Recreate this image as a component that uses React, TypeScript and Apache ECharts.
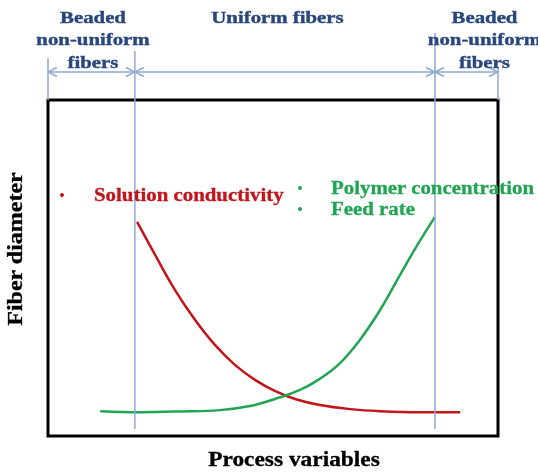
import React, { useEffect, useRef } from "react";
import * as echarts from "echarts";

// Process variable (x) and fiber diameter (y), arbitrary units 0..10
const conductivityX = [1.98, 2.38, 2.82, 3.27, 3.71, 4.16, 4.6, 5.04, 5.49, 6.04, 6.71, 7.38, 8.27, 9.16];
const conductivityY = [6.37, 5.39, 4.35, 3.45, 2.71, 2.11, 1.67, 1.34, 1.1, 0.92, 0.8, 0.74, 0.71, 0.71];
const concentrationX = [1.16, 2.04, 2.93, 3.82, 4.49, 5.04, 5.6, 6.04, 6.49, 6.93, 7.38, 7.82, 8.22, 8.6];
const concentrationY = [0.74, 0.71, 0.73, 0.77, 0.89, 1.1, 1.37, 1.7, 2.17, 2.86, 3.75, 4.79, 5.71, 6.52];

// Region boundaries along the process-variable axis
const boundaries = [0, 1.93, 8.6, 10];
const regionCenters = [1.0, 5.1, 9.7];
const regionLabels = [
  ["Beaded", "non-uniform", "fibers"],
  ["Uniform fibers"],
  ["Beaded", "non-uniform", "fibers"],
];
const legendRed = ["Solution conductivity"];
const legendGreen = ["Polymer concentration", "Feed rate"];

const RED = "#C1141B";
const GREEN = "#22A553";
const BLUE_TEXT = "#2A477C";
const BLUE_LINE = "#8FAAD1";
const SERIF = "Liberation Serif, Times New Roman, serif";

export default function App() {
  const ref = useRef<HTMLDivElement>(null);
  useEffect(() => {
    if (!ref.current) return;
    const chart = echarts.init(ref.current, null, { renderer: "svg" });
    const zip = (xs: number[], ys: number[]) => xs.map((x, i) => [x, ys[i]]);
    chart.setOption({
      animation: false,
      grid: {
        left: 48,
        top: 100,
        width: 450,
        height: 336,
        show: true,
        borderColor: "#000",
        borderWidth: 3,
        backgroundColor: "transparent",
      },
      xAxis: {
        type: "value",
        min: 0,
        max: 10,
        axisLine: { show: false },
        axisTick: { show: false },
        axisLabel: { show: false },
        splitLine: { show: false },
      },
      yAxis: {
        type: "value",
        min: 0,
        max: 10,
        axisLine: { show: false },
        axisTick: { show: false },
        axisLabel: { show: false },
        splitLine: { show: false },
      },
      series: [
        {
          name: legendRed[0],
          type: "line",
          smooth: 0.4,
          showSymbol: false,
          lineStyle: { color: RED, width: 2.5 },
          data: zip(conductivityX, conductivityY),
        },
        {
          name: legendGreen.join(" / "),
          type: "line",
          smooth: 0.4,
          showSymbol: false,
          lineStyle: { color: GREEN, width: 2.5 },
          data: zip(concentrationX, concentrationY),
        },
      ],
    });

    const px = (v: number) => chart.convertToPixel({ xAxisIndex: 0 }, v) as number;
    const graphics: any[] = [];
    const tops = [58, 51, 33, 67];
    const bottoms = [100, 429, 429, 100];
    const arrowY = 72;
    boundaries.forEach((b, i) => {
      const x = px(b);
      graphics.push({
        type: "line",
        shape: { x1: x, y1: tops[i], x2: x, y2: bottoms[i] },
        style: { stroke: BLUE_LINE, lineWidth: 1.5 },
        z: 10,
      });
    });
    for (let i = 0; i < boundaries.length - 1; i++) {
      const x1 = px(boundaries[i]);
      const x2 = px(boundaries[i + 1]);
      graphics.push({
        type: "line",
        shape: { x1, y1: arrowY, x2, y2: arrowY },
        style: { stroke: BLUE_LINE, lineWidth: 1.5 },
        z: 10,
      });
      graphics.push({
        type: "polyline",
        shape: { points: [[x1 + 9, arrowY - 4.5], [x1, arrowY], [x1 + 9, arrowY + 4.5]] },
        style: { stroke: BLUE_LINE, lineWidth: 1.5, fill: "none" },
        z: 10,
      });
      graphics.push({
        type: "polyline",
        shape: { points: [[x2 - 9, arrowY - 4.5], [x2, arrowY], [x2 - 9, arrowY + 4.5]] },
        style: { stroke: BLUE_LINE, lineWidth: 1.5, fill: "none" },
        z: 10,
      });
    }
    const lineYs = [17, 39, 62];
    regionLabels.forEach((lines, i) => {
      const cx = px(regionCenters[i]);
      lines.forEach((t, j) => {
        graphics.push({
          type: "text",
          x: cx,
          y: lineYs[j],
          scaleX: 1.19,
          style: {
            text: t,
            fill: BLUE_TEXT,
            stroke: BLUE_TEXT,
            lineWidth: 0.4,
            font: `bold 17.5px ${SERIF}`,
            textAlign: "center",
            textVerticalAlign: "middle",
          },
          z: 12,
        });
      });
    });
    // legend-like annotations
    graphics.push({ type: "circle", shape: { cx: 62, cy: 195, r: 2 }, style: { fill: RED }, z: 12 });
    graphics.push({
      type: "text",
      x: 94,
      y: 195,
      scaleX: 1.16,
      style: { text: legendRed[0], fill: RED, stroke: RED, lineWidth: 0.3, font: `bold 18px ${SERIF}`, textAlign: "left", textVerticalAlign: "middle" },
      z: 12,
    });
    const greenYs = [188, 209];
    legendGreen.forEach((t, i) => {
      graphics.push({ type: "circle", shape: { cx: 300, cy: greenYs[i], r: 2 }, style: { fill: GREEN }, z: 12 });
      graphics.push({
        type: "text",
        x: 331,
        y: greenYs[i],
        scaleX: 1.16,
        style: { text: t, fill: GREEN, stroke: GREEN, lineWidth: 0.3, font: `bold 18px ${SERIF}`, textAlign: "left", textVerticalAlign: "middle" },
        z: 12,
      });
    });
    // axis titles
    graphics.push({
      type: "text",
      x: 294,
      y: 460,
      scaleX: 1.17,
      style: { text: "Process variables", fill: "#000", stroke: "#000", lineWidth: 0.3, font: `bold 20px ${SERIF}`, textAlign: "center", textVerticalAlign: "middle" },
      z: 12,
    });
    graphics.push({
      type: "text",
      x: 15,
      y: 249,
      rotation: Math.PI / 2,
      scaleX: 1.2,
      style: { text: "Fiber diameter", fill: "#000", stroke: "#000", lineWidth: 0.3, font: `bold 20px ${SERIF}`, textAlign: "center", textVerticalAlign: "middle" },
      z: 12,
    });
    chart.setOption({ graphic: { elements: graphics } });
    return () => chart.dispose();
  }, []);
  return <div ref={ref} style={{ position: "fixed", left: 0, top: 0, width: 538, height: 474 }} />;
}
